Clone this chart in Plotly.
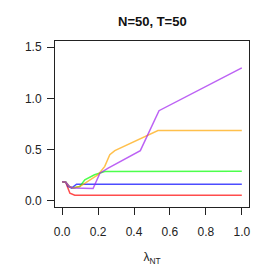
import plotly.graph_objects as go

red_x = [0, 0.02, 0.043, 0.07, 1.0]
red_y = [0.186, 0.18, 0.075, 0.055, 0.055]
blue_x = [0, 0.02, 0.033, 0.052, 0.08, 1.0]
blue_y = [0.186, 0.183, 0.14, 0.125, 0.163, 0.163]
green_x = [0, 0.02, 0.04, 0.06, 0.098, 0.126, 0.18, 0.237, 1.0]
green_y = [0.186, 0.183, 0.14, 0.125, 0.14, 0.206, 0.255, 0.287, 0.29]
orange_x = [0, 0.02, 0.04, 0.06, 0.098, 0.144, 0.2, 0.237, 0.265, 0.293, 0.533, 1.0]
orange_y = [0.186, 0.183, 0.14, 0.125, 0.14, 0.19, 0.255, 0.336, 0.45, 0.49, 0.686, 0.686]
purple_x = [0, 0.02, 0.04, 0.06, 0.172, 0.21, 0.256, 0.435, 0.539, 1.0]
purple_y = [0.186, 0.183, 0.14, 0.125, 0.12, 0.27, 0.32, 0.49, 0.88, 1.297]

series = [
    (red_x, red_y, "rgba(255,0,0,0.7)"),
    (blue_x, blue_y, "rgba(0,0,255,0.7)"),
    (green_x, green_y, "rgba(0,255,0,0.7)"),
    (orange_x, orange_y, "rgba(255,165,0,0.7)"),
    (purple_x, purple_y, "rgba(160,32,240,0.7)"),
]

fig = go.Figure()
for xs, ys, c in series:
    fig.add_trace(go.Scatter(x=xs, y=ys, mode="lines",
                             line=dict(color=c, width=1.5), showlegend=False))

font = dict(family="Liberation Sans, Arial, sans-serif", size=12, color="#222")
fig.update_layout(
    width=277, height=277,
    margin=dict(l=55, r=28, t=41, b=70),
    paper_bgcolor="white", plot_bgcolor="white",
    font=font,
)
fig.add_annotation(text="<b>N=50, T=50</b>", x=0.5, xref="paper", xanchor="center",
                   y=(207 - 21) / 166, yref="paper", yanchor="middle",
                   showarrow=False, font=dict(size=13, color="#111"))
fig.update_xaxes(range=[-0.04, 1.04], tickvals=[0, 0.2, 0.4, 0.6, 0.8, 1.0],
                 tickformat=".1f", showgrid=False, zeroline=False,
                 showline=True, linecolor="#222", linewidth=1, mirror=True,
                 ticks="outside", ticklen=7, tickcolor="#222",
                 ticklabelstandoff=7,
                 title=dict(text="λ<sub>NT</sub>", standoff=14,
                            font=dict(size=12)))
fig.update_yaxes(range=[-0.06, 1.56], tickvals=[0, 0.5, 1.0, 1.5],
                 tickformat=".1f", showgrid=False, zeroline=False,
                 showline=True, linecolor="#222", linewidth=1, mirror=True,
                 ticks="outside", ticklen=7, tickcolor="#222",
                 ticklabelstandoff=3)

fig.write_html("out.html", config={"displayModeBar": False},
               post_script="document.body.style.margin='0';document.body.style.padding='0';")
